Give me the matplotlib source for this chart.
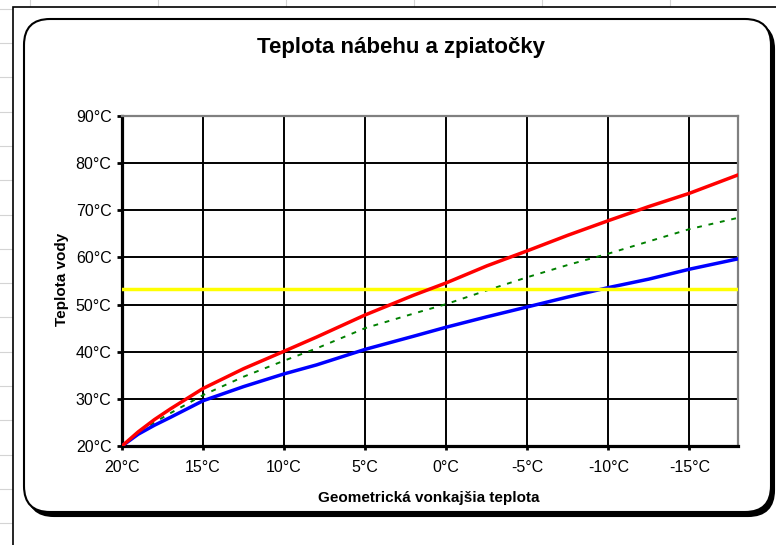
import matplotlib
matplotlib.use("Agg")
import matplotlib.pyplot as plt
from matplotlib.patches import FancyBboxPatch, Rectangle

plt.rcParams['font.family'] = ['Liberation Sans', 'DejaVu Sans']

# ---- data ----
outdoor = [20, 19, 18, 17, 15, 12.5, 10, 8, 5, 2, 0, -2.5, -5, -7.5, -10, -12.5, -15, -18]
supply = [20, 23.0, 25.6, 27.9, 32.2, 36.4, 40.1, 43.1, 47.8, 52.0, 54.6, 58.2, 61.4, 64.7, 67.8, 70.8, 73.6, 77.5]
ret = [20, 22.5, 24.4, 26.1, 29.6, 32.6, 35.3, 37.2, 40.5, 43.3, 45.2, 47.4, 49.5, 51.6, 53.6, 55.4, 57.5, 59.7]
mean = [20, 22.7, 25.0, 27.0, 30.8, 34.7, 38.1, 40.7, 45.0, 48.1, 50.1, 53.0, 55.8, 58.4, 60.8, 63.4, 66.0, 68.4]
limit_value = 53.2
x_ticks = [20, 15, 10, 5, 0, -5, -10, -15]
y_ticks = [20, 30, 40, 50, 60, 70, 80, 90]
x_range = (20, -18)
y_range = (20, 90)

title = "Teplota nábehu a zpiatočky"
xlabel = "Geometrická vonkajšia teplota"
ylabel = "Teplota vody"

W, H = 776, 545
fig = plt.figure(figsize=(W / 100, H / 100), dpi=100)

# ---- background: spreadsheet grid, chart frame, rounded box ----
bg = fig.add_axes([0, 0, 1, 1], zorder=0)
bg.set_xlim(0, W)
bg.set_ylim(H, 0)
bg.axis('off')
grid_c = '#d4d4d4'
for gx in [30, 158, 286, 414, 542, 670]:
    bg.plot([gx, gx], [0, H], color=grid_c, lw=0.8, zorder=0)
gy = 8.7
while gy < H:
    bg.plot([0, W], [gy, gy], color=grid_c, lw=0.8, zorder=0)
    gy += 34.3
bg.add_patch(Rectangle((13, 7), W + 20, H + 20, facecolor='white', edgecolor='black',
                       lw=1.2, zorder=2))
bg.add_patch(FancyBboxPatch((28, 23), 746, 493, boxstyle="round,pad=0,rounding_size=26",
                            facecolor='black', edgecolor='black', lw=1.5, zorder=3))
bg.add_patch(FancyBboxPatch((24, 19), 747, 493, boxstyle="round,pad=0,rounding_size=26",
                            facecolor='white', edgecolor='black', lw=1.5, zorder=4))

# ---- plot ----
ax = fig.add_axes([122 / W, 1 - 446 / H, (738 - 122) / W, (446 - 116) / H], zorder=1)
ax.set_facecolor('white')
ax.set_xlim(*x_range)
ax.set_ylim(*y_range)
ax.set_xticks(x_ticks)
ax.set_xticklabels([f"{v}°C" for v in x_ticks])
ax.set_yticks(y_ticks)
ax.set_yticklabels([f"{v}°C" for v in y_ticks])
ax.grid(True, color='black', lw=1.4)
ax.set_axisbelow(True)

ax.plot(outdoor, mean, color='#008000', lw=1.4, dashes=(2.5, 3.5), zorder=3)
ax.plot(outdoor, ret, color='#0000ff', lw=2.5, zorder=3)
ax.axhline(limit_value, color='#ffff00', lw=2.5, zorder=4)
ax.plot(outdoor, supply, color='#ff0000', lw=2.5, zorder=5)

for s in ['left', 'bottom']:
    ax.spines[s].set_color('black')
    ax.spines[s].set_linewidth(2.3)
for s in ['top', 'right']:
    ax.spines[s].set_color('#808080')
    ax.spines[s].set_linewidth(1.6)

ax.tick_params(axis='y', direction='out', length=3.5, width=2, color='black',
               labelsize=11.5, pad=4)
ax.tick_params(axis='x', direction='out', length=3, width=2, color='black',
               labelsize=11.5, pad=7)

fig.text(429 / W, 1 - 498 / H, xlabel, ha='center', va='center', fontsize=11, fontweight='bold')
fig.text(62 / W, 1 - 279 / H, ylabel, ha='center', va='center', fontsize=11,
         fontweight='bold', rotation=90)
fig.text(401 / W, 1 - 47 / H, title, ha='center', va='center', fontsize=16, fontweight='bold')

fig.savefig('out.png', dpi=100)
